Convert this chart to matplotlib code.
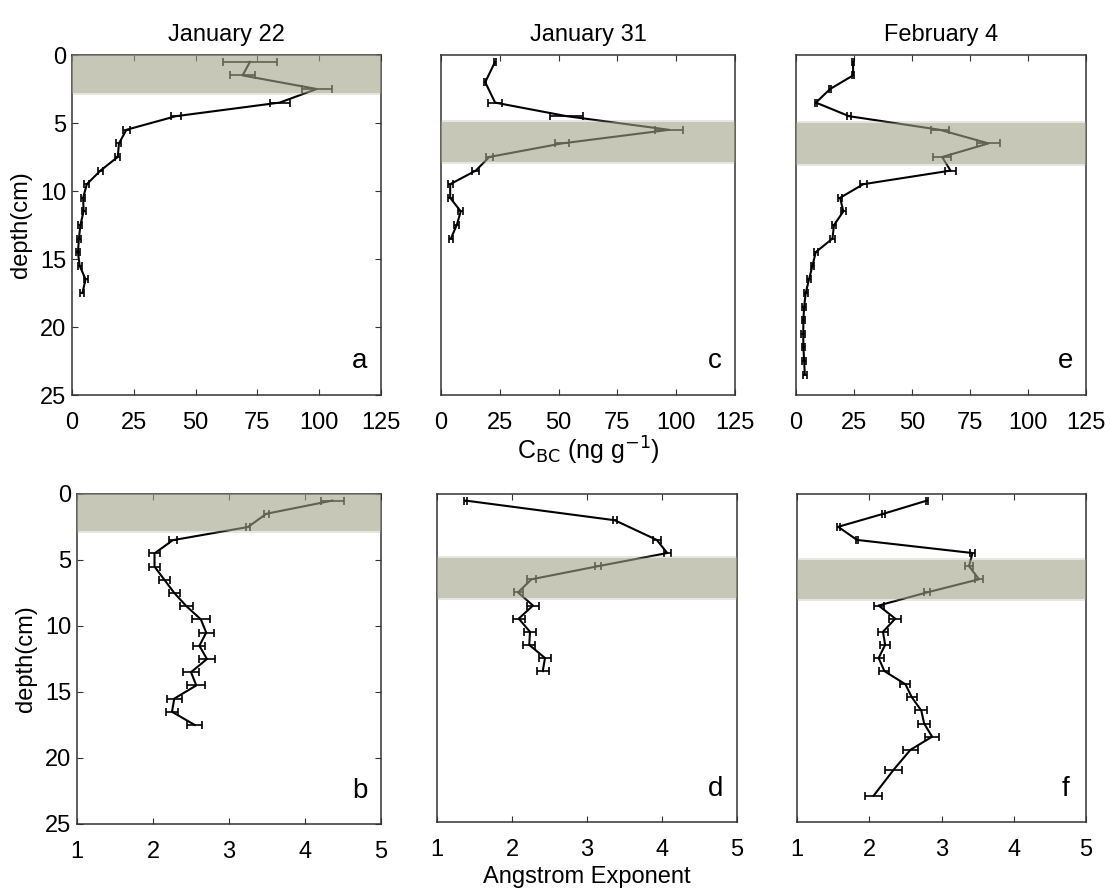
import matplotlib
matplotlib.use('Agg')
import matplotlib.pyplot as plt
import numpy as np

plt.rcParams['font.family'] = ['Liberation Sans', 'DejaVu Sans']

titles = ['January 22', 'January 31', 'February 4']
letters_top = ['a', 'c', 'e']
letters_bot = ['b', 'd', 'f']

# depths (cm)
depth_jan22 = [0.5, 1.5, 2.5, 3.5, 4.5, 5.5, 6.5, 7.5, 8.5, 9.5, 10.5, 11.5,
               12.5, 13.5, 14.5, 15.5, 16.5, 17.5]
depth_jan31 = [0.5, 2, 3.5, 4.5, 5.5, 6.5, 7.5, 8.5, 9.5, 10.5, 11.5, 12.5, 13.5]
depth_feb4_bc = [0.5, 1.5, 2.5, 3.5, 4.5, 5.5, 6.5, 7.5, 8.5, 9.5, 10.5, 11.5,
                 12.5, 13.5, 14.5, 15.5, 16.5, 17.5, 18.5, 19.5, 20.5, 21.5,
                 22.5, 23.5]
depth_feb4_ae = [0.5, 1.5, 2.5, 3.5, 4.5, 5.5, 6.5, 7.5, 8.5, 9.5, 10.5, 11.5,
                 12.5, 13.5, 14.5, 15.5, 16.5, 17.5, 18.5, 19.5, 21, 23]

# black carbon concentration (ng/g)
bc_jan22 = [72, 69, 99, 84, 42, 22, 19, 18.5, 11.5, 6, 4.5, 4.7, 3.4, 2.8,
            2.4, 3.1, 5.5, 4.2]
bc_jan22_err = [11, 5, 6, 4, 2, 1.5, 1, 1, 1, 1, 0.8, 0.8, 0.8, 0.8, 0.8,
                0.8, 0.8, 0.8]
bc_jan31 = [23, 18.8, 23, 53.5, 97, 51.5, 20.5, 14.8, 3.9, 3.9, 8.4, 6.7, 4.2]
bc_jan31_err = [0.5, 0.5, 3, 7, 6, 3, 1.5, 1.5, 1, 1, 1, 1, 1]
bc_feb4 = [24.6, 24.6, 14.7, 8.6, 22.9, 62, 83, 63, 66.6, 29, 19, 20.4, 16.4,
           15.7, 8.5, 7.1, 5.6, 4.2, 3.5, 3.2, 3.1, 3.2, 3.5, 3.8]
bc_feb4_err = [0.5, 0.5, 0.5, 0.5, 1, 4, 5, 4, 2.5, 1.5, 1, 1, 1, 1, 0.8, 0.8,
               0.8, 0.8, 0.8, 0.8, 0.8, 0.8, 0.8, 0.8]

# angstrom exponent
ae_jan22 = [4.36, 3.49, 3.25, 2.26, 2.02, 2.02, 2.15, 2.28, 2.44, 2.63, 2.70,
            2.61, 2.71, 2.50, 2.57, 2.28, 2.25, 2.55]
ae_jan22_err = [0.15, 0.03, 0.03, 0.05, 0.07, 0.07, 0.07, 0.07, 0.09, 0.12,
                0.1, 0.08, 0.1, 0.1, 0.12, 0.1, 0.08, 0.1]
ae_jan31 = [1.38, 3.37, 3.93, 4.07, 3.15, 2.26, 2.08, 2.28, 2.09, 2.24, 2.23,
            2.44, 2.41]
ae_jan31_err = [0.02, 0.03, 0.05, 0.05, 0.04, 0.06, 0.06, 0.08, 0.08, 0.08,
                0.08, 0.08, 0.08]
ae_feb4 = [2.80, 2.20, 1.57, 1.83, 3.43, 3.38, 3.52, 2.80, 2.13, 2.36, 2.19,
           2.22, 2.13, 2.21, 2.50, 2.59, 2.72, 2.76, 2.87, 2.57, 2.34, 2.06]
ae_feb4_err = [0.02, 0.02, 0.02, 0.02, 0.04, 0.05, 0.05, 0.04, 0.07, 0.08,
               0.07, 0.07, 0.07, 0.07, 0.07, 0.07, 0.08, 0.08, 0.1, 0.1, 0.12,
               0.12]

# shaded layer (cm)
bands = [(0, 2.8), (4.9, 7.9), (5, 8)]

W, H = 1110, 894


def rect(l, r, t, b):
    return [l / W, 1 - b / H, (r - l) / W, (b - t) / H]


top_rects = [rect(72, 381, 55, 395), rect(441, 735, 55, 395), rect(796, 1086, 55, 395)]
bot_rects = [rect(77, 381, 494, 824), rect(437, 737, 494, 822), rect(797, 1086, 494, 822)]

fig = plt.figure(figsize=(W / 100, H / 100), dpi=100)

top_data = [(bc_jan22, bc_jan22_err, depth_jan22),
            (bc_jan31, bc_jan31_err, depth_jan31),
            (bc_feb4, bc_feb4_err, depth_feb4_bc)]
bot_data = [(ae_jan22, ae_jan22_err, depth_jan22),
            (ae_jan31, ae_jan31_err, depth_jan31),
            (ae_feb4, ae_feb4_err, depth_feb4_ae)]


def style(ax, first):
    for s in ax.spines.values():
        s.set_linewidth(1.1)
        s.set_color('#333333')
    ax.tick_params(direction='in', top=True, right=first, left=first,
                   length=4, width=0.8, labelsize=17, colors='#333333',
                   labelcolor='black')
    ax.tick_params(axis='x', pad=12)
    ax.tick_params(axis='y', pad=4)
    ax.set_ylim(25, 0)
    if first:
        ax.set_yticks([0, 5, 10, 15, 20, 25])
        ax.set_ylabel('depth(cm)', fontsize=17, labelpad=6)
    else:
        ax.set_yticks([])


def shade(ax, lo, hi):
    # soft-edged layer drawn over the profile
    ax.axhspan(lo, hi, color='#a3a38a', alpha=0.6, lw=0, zorder=5)
    ax.axhspan(hi, hi + 0.15, color='#a3a38a', alpha=0.25, lw=0, zorder=5)
    if lo > 0:
        ax.axhspan(lo - 0.15, lo, color='#a3a38a', alpha=0.25, lw=0, zorder=5)


for i in range(3):
    ax = fig.add_axes(top_rects[i])
    x, err, d = top_data[i]
    ax.errorbar(x, d, xerr=err, color='black', lw=1.5, elinewidth=1.2,
                capsize=3, capthick=1.2)
    shade(ax, *bands[i])
    ax.set_xlim(0, 125)
    ax.set_xticks([0, 25, 50, 75, 100, 125])
    style(ax, i == 0)
    ax.set_title(titles[i], fontsize=17, pad=10)
    ax.text(0.93, 0.1, letters_top[i], transform=ax.transAxes, fontsize=20,
            ha='center', va='center')
    if i == 1:
        ax.set_xlabel('C$_{\\mathrm{BC}}$ (ng g$^{-1}$)', fontsize=18, labelpad=1)

for i in range(3):
    ax = fig.add_axes(bot_rects[i])
    x, err, d = bot_data[i]
    ax.errorbar(x, d, xerr=err, color='black', lw=1.5, elinewidth=1.2,
                capsize=3, capthick=1.2)
    shade(ax, *bands[i])
    ax.set_xlim(1, 5)
    ax.set_xticks([1, 2, 3, 4, 5])
    style(ax, i == 0)
    ax.text(0.93, 0.1, letters_bot[i], transform=ax.transAxes, fontsize=20,
            ha='center', va='center')
    if i == 1:
        ax.set_xlabel('Angstrom Exponent', fontsize=17, labelpad=4)

fig.savefig('out.png', dpi=100)
